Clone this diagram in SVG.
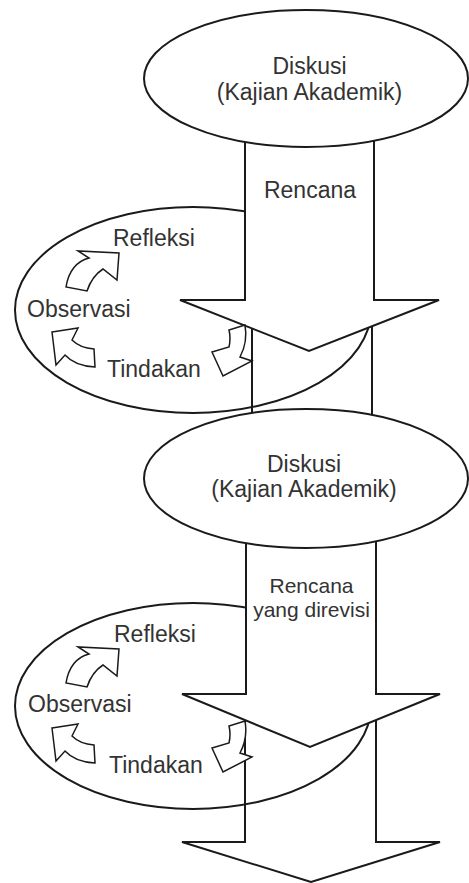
<svg xmlns="http://www.w3.org/2000/svg" width="469" height="883" viewBox="0 0 469 883">
<style>
.s{stroke:#1a1a1a;stroke-width:2;fill:#fff;stroke-linejoin:miter}
.l{stroke:#1a1a1a;stroke-width:2;fill:none}
.c{stroke:#1a1a1a;stroke-width:1.5;fill:#fff;stroke-linejoin:miter}
text{font-family:"Liberation Sans",Arial,sans-serif;fill:#333;font-size:23px}
.m{text-anchor:middle}
</style>
<defs>
<g id="cyc">
<path class="c" d="M66,287 Q70,263 89,258 L78,251 L119,253 L117,280 L103,269 Q92,276 87,291 Z"/>
<path class="c" d="M52,332 L78,328 L72,340 Q80,348 94,349 L95,367 Q75,366 65,355 L56,365 Z"/>
<path class="c" d="M245,325 L229,330 Q231,338 229,347 L212,352 L223,376 L252,361 L240,357 Q248,342 245,325 Z"/>
</g>
</defs>
<rect width="469" height="883" fill="#fff"/>
<g id="connectors">
<ellipse id="cycle2-ring" class="s" cx="193" cy="706" rx="178" ry="103"/>
<path id="arrow3" class="l" d="M245,715 L245,842 L182,842 L311,882 L440,842 L376,842 L376,715"/>
<path id="arrow2" class="s" d="M246,540 L246,694 L182,694 L310,747 L440,694 L376,694 L376,540 Z"/>
<ellipse id="cycle1-ring" class="s" cx="193" cy="310" rx="178" ry="103"/>
<path id="shaft2" class="l" d="M252,320 L252,425 M372,320 L372,425"/>
</g>
<g id="diskusi2">
<ellipse class="s" cx="306" cy="478.5" rx="162" ry="69.5"/>
<text class="m" x="304" y="472">Diskusi</text>
<text class="m" x="304" y="497">(Kajian Akademik)</text>
</g>
<g id="arrow1">
<path class="s" d="M245,140 L245,300 L180,300 L309,351 L439,300 L374,300 L374,140 Z"/>
</g>
<g id="diskusi1">
<ellipse class="s" cx="306" cy="78.5" rx="162" ry="68.5"/>
<text class="m" x="309.5" y="74">Diskusi</text>
<text class="m" x="309.5" y="100">(Kajian Akademik)</text>
</g>
<g id="rencana1"><text class="m" x="310" y="198">Rencana</text></g>
<g id="rencana2">
<text class="m" x="311.5" y="593" style="font-size:21px">Rencana</text>
<text class="m" x="311.5" y="617" style="font-size:21px">yang direvisi</text>
</g>
<g id="cycle1">
<use href="#cyc"/>
<text x="113" y="246">Refleksi</text>
<text x="27" y="317">Observasi</text>
<text x="107" y="377">Tindakan</text>
</g>
<g id="cycle2">
<use href="#cyc" transform="translate(0,396)"/>
<text x="114" y="642">Refleksi</text>
<text x="28" y="712">Observasi</text>
<text x="109" y="773">Tindakan</text>
</g>
</svg>
